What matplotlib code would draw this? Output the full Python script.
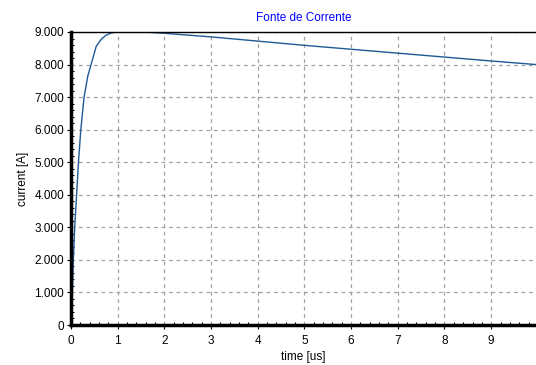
import matplotlib.pyplot as plt
from matplotlib.ticker import FuncFormatter, MultipleLocator

plt.rcParams['font.family'] = ['Liberation Sans', 'DejaVu Sans']

# current source waveform (time in us, current in A)
time_us = [0.0, 0.015, 0.02, 0.03, 0.05, 0.08, 0.12, 0.16, 0.21, 0.28, 0.36, 0.43,
           0.54, 0.65, 0.75, 0.85, 0.95, 1.1, 1.5, 2.0, 3.0, 4.0, 5.0, 6.0, 7.0,
           8.0, 9.0, 9.96]
current_a = [0, 0, 460, 1000, 2000, 3000, 4000, 5000, 6000, 7000, 7650, 8000,
             8560, 8780, 8900, 8965, 8995, 9010, 9005, 8960, 8850, 8720, 8590,
             8470, 8350, 8230, 8110, 8000]

fig = plt.figure(figsize=(5.36, 3.65), dpi=100)
ax = fig.add_axes([71 / 536, 1 - 325 / 365, 1 - 71 / 536, 293 / 365])

ax.plot(time_us, current_a, color='#1f5a96', linewidth=1.0)

ax.set_xlim(0, 9.96)
ax.set_ylim(0, 9000)
ax.xaxis.set_major_locator(MultipleLocator(1))
ax.xaxis.set_minor_locator(MultipleLocator(0.2))
ax.yaxis.set_major_locator(MultipleLocator(1000))
ax.yaxis.set_minor_locator(MultipleLocator(200))
ax.yaxis.set_major_formatter(FuncFormatter(lambda v, p: f'{int(v):,}'.replace(',', '.')))

ax.grid(True, which='major', linestyle=(0, (3, 3)), color='#a0a0a0', linewidth=0.9)
ax.tick_params(which='major', direction='out', length=3, width=0.8, labelsize=8.5)
ax.tick_params(axis='x', which='major', pad=4)
ax.tick_params(axis='y', which='major', pad=2)
ax.tick_params(which='minor', direction='in', length=2, width=0.8)

for side in ('left', 'bottom'):
    ax.spines[side].set_linewidth(2.5)
ax.spines['top'].set_linewidth(1.0)
ax.spines['right'].set_visible(False)

ax.set_xlabel('time [us]', fontsize=8.5, labelpad=3)
ax.set_ylabel('current [A]', fontsize=8.5, labelpad=4)
ax.set_title('Fonte de Corrente', fontsize=8.5, color='#0000ff', pad=8)

fig.savefig('out.png', dpi=100)
